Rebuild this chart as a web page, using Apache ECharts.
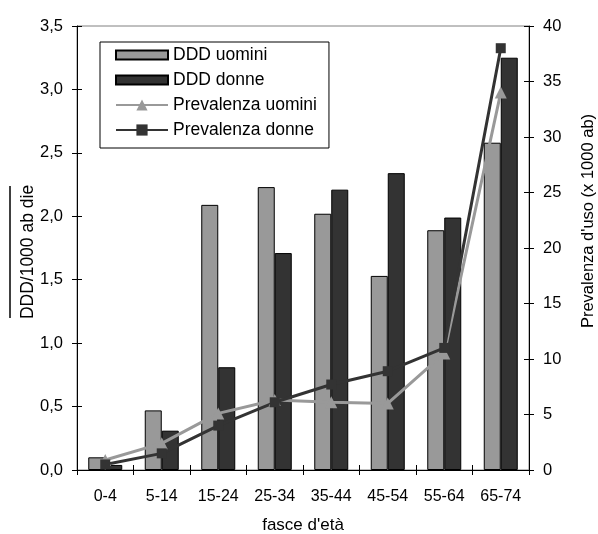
<!DOCTYPE html>
<html><head><meta charset="utf-8">
<script src="https://cdn.jsdelivr.net/npm/echarts@6/dist/echarts.min.js"></script>
<style>html,body{margin:0;padding:0;background:#fff}#c{width:598px;height:534px}</style>
</head><body><div id="c"></div>
<script>
var categories = ['0-4','5-14','15-24','25-34','35-44','45-54','55-64','65-74'];
var dddUomini = [0.10, 0.47, 2.09, 2.23, 2.02, 1.53, 1.89, 2.58];
var dddDonne = [0.04, 0.31, 0.81, 1.71, 2.21, 2.34, 1.99, 3.25];
var prevUomini = [0.9, 2.4, 5.1, 6.3, 6.1, 6.0, 10.5, 34.0];
var prevDonne = [0.5, 1.5, 4.0, 6.1, 7.7, 8.9, 11.0, 38.0];
var seriesNames = ['DDD uomini','DDD donne','Prevalenza uomini','Prevalenza donne'];
var xTitle = "fasce d'età";
var yLeftTitle = 'DDD/1000 ab die';
var yRightTitle = "Prevalenza d'uso (x 1000 ab)";

var FONT = 'Liberation Sans, Arial, sans-serif';
var chart = echarts.init(document.getElementById('c'), null, {renderer: 'canvas'});
var barIcon = 'path://M0,0 L52,0 L52,9 L0,9 Z';
var axisLineStyle = {color: '#000', width: 1};
var option = {
  animation: false,
  backgroundColor: '#fff',
  textStyle: {fontFamily: FONT},
  grid: {left: 77, right: 69, top: 26, bottom: 64, containLabel: false, outerBoundsMode: 'none',
    show: true, borderColor: '#808080', borderWidth: 1, backgroundColor: 'transparent'},
  legend: {
    orient: 'vertical', left: 100, top: 42,
    padding: [4, 12, 9, 15],
    borderColor: '#000', borderWidth: 1, backgroundColor: '#fff',
    itemWidth: 52, itemHeight: 14, itemGap: 7,
    textStyle: {fontFamily: FONT, fontSize: 17.5, color: '#000'},
    data: [
      {name: seriesNames[0], icon: barIcon},
      {name: seriesNames[1], icon: barIcon},
      {name: seriesNames[2]},
      {name: seriesNames[3]}
    ]
  },
  xAxis: [{
    type: 'category', data: categories, position: 'bottom',
    axisLine: {lineStyle: axisLineStyle},
    axisTick: {show: true, length: 5, lineStyle: axisLineStyle},
    axisLabel: {color: '#000', fontSize: 16, fontFamily: FONT, margin: 19},
    name: xTitle, nameLocation: 'middle', nameGap: 47, nameMoveOverlap: false,
    nameTextStyle: {color: '#000', fontSize: 17, fontFamily: FONT}
  }, {
    type: 'category', data: categories, position: 'bottom', gridIndex: 0,
    axisLine: {show: false},
    axisTick: {show: true, inside: true, length: 5, lineStyle: axisLineStyle},
    axisLabel: {show: false}
  }],
  yAxis: [{
    type: 'value', min: 0, max: 3.5, interval: 0.5, position: 'left',
    axisLine: {show: true, lineStyle: axisLineStyle},
    axisTick: {show: true, length: 5, lineStyle: axisLineStyle},
    splitLine: {show: false},
    axisLabel: {color: '#000', fontSize: 16.5, fontFamily: FONT, margin: 14,
      formatter: function (v) { return v.toFixed(1).replace('.', ','); }},
    name: yLeftTitle, nameLocation: 'middle', nameGap: 40, nameRotate: 90, nameMoveOverlap: false,
    nameTextStyle: {color: '#000', fontSize: 17.5, fontFamily: FONT, padding: [0, 8, 0, 0]}
  }, {
    type: 'value', min: 0, max: 40, interval: 5, position: 'right',
    axisLine: {show: true, lineStyle: axisLineStyle},
    axisTick: {show: true, length: 5, lineStyle: axisLineStyle},
    splitLine: {show: false},
    axisLabel: {color: '#000', fontSize: 16.5, fontFamily: FONT, margin: 14},
    name: yRightTitle, nameLocation: 'middle', nameGap: 51, nameRotate: 90, nameMoveOverlap: false,
    nameTextStyle: {color: '#000', fontSize: 16.5, fontFamily: FONT, padding: [0, 0, 0, 54]}
  }, {
    type: 'value', min: 0, max: 3.5, interval: 0.5, position: 'left',
    axisLine: {show: false}, splitLine: {show: false}, axisLabel: {show: false},
    axisTick: {show: true, inside: true, length: 5, lineStyle: axisLineStyle}
  }, {
    type: 'value', min: 0, max: 40, interval: 5, position: 'right',
    axisLine: {show: false}, splitLine: {show: false}, axisLabel: {show: false},
    axisTick: {show: true, inside: true, length: 5, lineStyle: axisLineStyle}
  }],
  series: [{
    name: seriesNames[0], type: 'bar', data: dddUomini, yAxisIndex: 0,
    barWidth: 17, barGap: '0%',
    itemStyle: {color: '#999999', borderColor: '#000', borderWidth: 1}
  }, {
    name: seriesNames[1], type: 'bar', data: dddDonne, yAxisIndex: 0,
    barWidth: 17, barGap: '0%',
    itemStyle: {color: '#333333', borderColor: '#000', borderWidth: 1}
  }, {
    name: seriesNames[2], type: 'line', data: prevUomini, yAxisIndex: 1,
    symbol: 'triangle', symbolSize: 12, showAllSymbol: true,
    lineStyle: {color: '#999999', width: 3},
    itemStyle: {color: '#999999', borderWidth: 0}
  }, {
    name: seriesNames[3], type: 'line', data: prevDonne, yAxisIndex: 1,
    symbol: 'rect', symbolSize: 10, showAllSymbol: true,
    lineStyle: {color: '#333333', width: 3},
    itemStyle: {color: '#333333', borderWidth: 0}
  }],
  graphic: [{
    type: 'line', shape: {x1: 10, y1: 186, x2: 10, y2: 318},
    style: {stroke: '#000', lineWidth: 1.5}, z: 100
  }]
};
chart.setOption(option);
</script></body></html>
